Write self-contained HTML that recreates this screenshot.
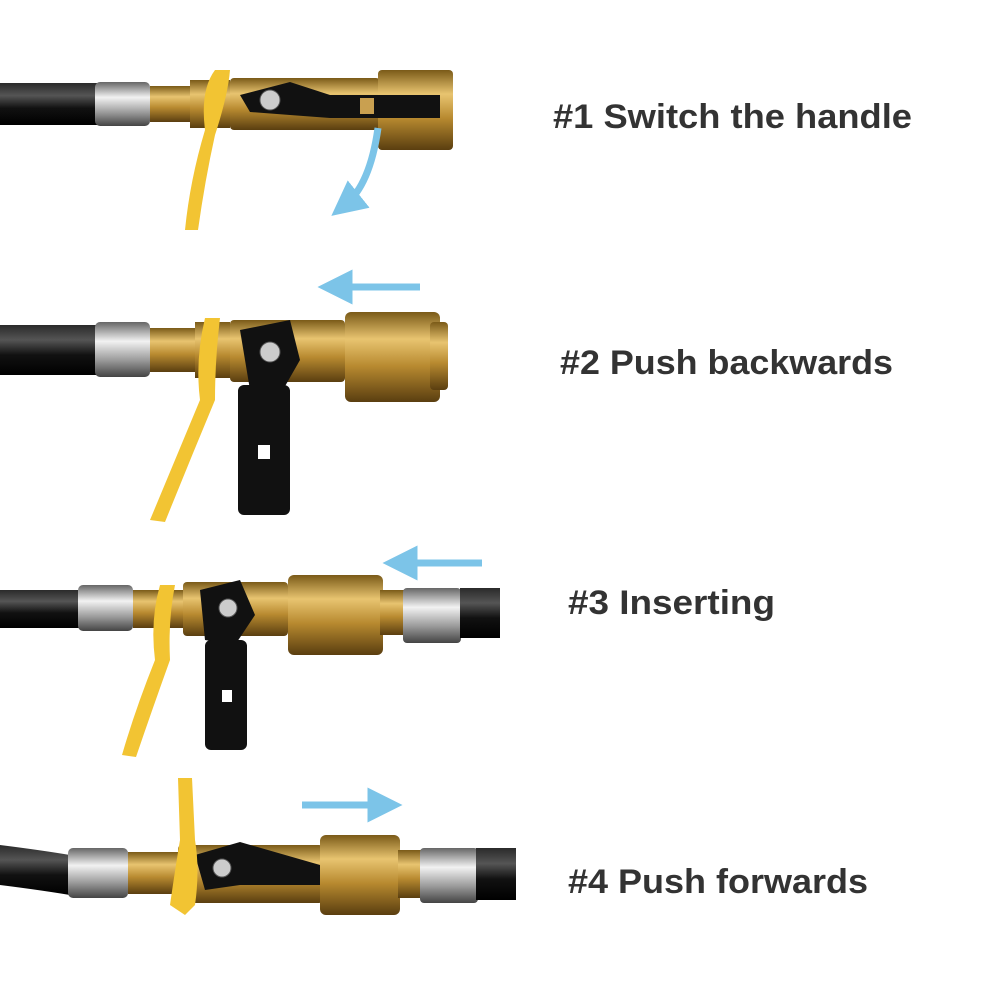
<!DOCTYPE html>
<html><head><meta charset="utf-8"><style>
html,body{margin:0;padding:0;background:#fff;width:1000px;height:1000px;overflow:hidden}
svg{display:block}
text{font-family:"Liberation Sans",sans-serif;font-weight:bold;fill:#333}
</style></head><body>
<svg width="1000" height="1000" viewBox="0 0 1000 1000" xmlns="http://www.w3.org/2000/svg">
<defs>
<linearGradient id="hose" x1="0" y1="0" x2="0" y2="1"><stop offset="0" stop-color="#2a2a2a"/><stop offset=".3" stop-color="#555"/><stop offset=".6" stop-color="#111"/><stop offset="1" stop-color="#000"/></linearGradient>
<linearGradient id="brass" x1="0" y1="0" x2="0" y2="1"><stop offset="0" stop-color="#7a5a18"/><stop offset=".3" stop-color="#e8c470"/><stop offset=".6" stop-color="#b88a30"/><stop offset="1" stop-color="#5a3e10"/></linearGradient>
<linearGradient id="silver" x1="0" y1="0" x2="0" y2="1"><stop offset="0" stop-color="#666"/><stop offset=".35" stop-color="#f2f2f2"/><stop offset=".7" stop-color="#999"/><stop offset="1" stop-color="#444"/></linearGradient>
<marker id="ah" viewBox="0 0 10 10" refX="5" refY="5" markerWidth="5" markerHeight="5" orient="auto"><path d="M0,0 L10,5 L0,10 z" fill="#7cc4e8"/></marker>
</defs>

<!-- Row 1 -->
<rect x="0" y="83" width="100" height="42" fill="url(#hose)"/>
<rect x="95" y="82" width="55" height="44" rx="5" fill="url(#silver)"/>
<rect x="150" y="86" width="40" height="36" fill="url(#brass)"/>
<rect x="190" y="80" width="40" height="48" fill="url(#brass)"/>
<rect x="230" y="78" width="150" height="52" rx="4" fill="url(#brass)"/>
<rect x="378" y="70" width="75" height="80" rx="4" fill="url(#brass)"/>
<path d="M240,95 L290,82 L330,95 L440,95 L440,118 L330,118 L290,115 L250,112 z" fill="#111"/>
<circle cx="270" cy="100" r="10" fill="#ccc" stroke="#555"/>
<rect x="360" y="98" width="14" height="16" fill="#c9a050"/>
<path d="M215,70 Q200,90 205,130 Q190,180 185,230 L198,230 Q205,180 215,135 Q228,95 230,70 z" fill="#f2c433"/>
<path d="M378,128 Q370,185 345,205" stroke="#7cc4e8" stroke-width="7" fill="none" marker-end="url(#ah)"/>
<text x="553" y="128" font-size="34" textLength="359" lengthAdjust="spacingAndGlyphs">#1 Switch the handle</text>

<!-- Row 2 -->
<rect x="0" y="325" width="105" height="50" fill="url(#hose)"/>
<rect x="95" y="322" width="55" height="55" rx="5" fill="url(#silver)"/>
<rect x="150" y="328" width="45" height="44" fill="url(#brass)"/>
<rect x="195" y="322" width="35" height="56" fill="url(#brass)"/>
<rect x="230" y="320" width="115" height="62" rx="4" fill="url(#brass)"/>
<rect x="345" y="312" width="95" height="90" rx="6" fill="url(#brass)"/>
<rect x="430" y="322" width="18" height="68" rx="4" fill="url(#brass)"/>
<path d="M240,330 L290,320 L300,360 L280,395 L250,390 z" fill="#111"/>
<circle cx="270" cy="352" r="10" fill="#ccc" stroke="#555"/>
<rect x="238" y="385" width="52" height="130" rx="6" fill="#111"/>
<rect x="258" y="445" width="12" height="14" fill="#fff"/>
<path d="M205,318 Q195,360 200,400 Q175,460 150,520 L165,522 Q190,460 215,400 Q215,360 220,318 z" fill="#f2c433"/>
<line x1="420" y1="287" x2="335" y2="287" stroke="#7cc4e8" stroke-width="7" marker-end="url(#ah)"/>
<text x="560" y="374" font-size="34" textLength="333" lengthAdjust="spacingAndGlyphs">#2 Push backwards</text>

<!-- Row 3 -->
<rect x="0" y="590" width="85" height="38" fill="url(#hose)"/>
<rect x="78" y="585" width="55" height="46" rx="5" fill="url(#silver)"/>
<rect x="133" y="590" width="50" height="38" fill="url(#brass)"/>
<rect x="183" y="582" width="105" height="54" rx="4" fill="url(#brass)"/>
<rect x="288" y="575" width="95" height="80" rx="6" fill="url(#brass)"/>
<rect x="380" y="590" width="25" height="45" fill="url(#brass)"/>
<rect x="403" y="588" width="58" height="55" rx="4" fill="url(#silver)"/>
<rect x="460" y="588" width="40" height="50" fill="url(#hose)"/>
<path d="M200,590 L240,580 L255,615 L235,645 L205,640 z" fill="#111"/>
<circle cx="228" cy="608" r="9" fill="#ccc" stroke="#555"/>
<rect x="205" y="640" width="42" height="110" rx="6" fill="#111"/>
<rect x="222" y="690" width="10" height="12" fill="#fff"/>
<path d="M160,585 Q150,620 155,660 Q135,710 122,755 L136,757 Q152,710 170,660 Q168,620 175,585 z" fill="#f2c433"/>
<line x1="482" y1="563" x2="400" y2="563" stroke="#7cc4e8" stroke-width="7" marker-end="url(#ah)"/>
<text x="568" y="614" font-size="34" textLength="207" lengthAdjust="spacingAndGlyphs">#3 Inserting</text>

<!-- Row 4 -->
<path d="M0,845 Q40,850 70,855 L70,895 Q40,890 0,885 z" fill="url(#hose)"/>
<rect x="68" y="848" width="60" height="50" rx="5" fill="url(#silver)"/>
<rect x="128" y="852" width="50" height="42" fill="url(#brass)"/>
<rect x="178" y="845" width="145" height="58" rx="4" fill="url(#brass)"/>
<rect x="320" y="835" width="80" height="80" rx="6" fill="url(#brass)"/>
<rect x="398" y="850" width="25" height="48" fill="url(#brass)"/>
<rect x="420" y="848" width="58" height="55" rx="4" fill="url(#silver)"/>
<rect x="476" y="848" width="40" height="52" fill="url(#hose)"/>
<path d="M195,855 L240,842 L320,865 L320,885 L240,885 L205,890 z" fill="#111"/>
<circle cx="222" cy="868" r="9" fill="#ccc" stroke="#555"/>
<path d="M178,778 L192,778 L195,840 Q200,870 195,905 L185,915 L170,905 Q175,870 180,840 z" fill="#f2c433"/>
<line x1="302" y1="805" x2="385" y2="805" stroke="#7cc4e8" stroke-width="7" marker-end="url(#ah)"/>
<text x="568" y="893" font-size="34" textLength="300" lengthAdjust="spacingAndGlyphs">#4 Push forwards</text>
</svg>
</body></html>
